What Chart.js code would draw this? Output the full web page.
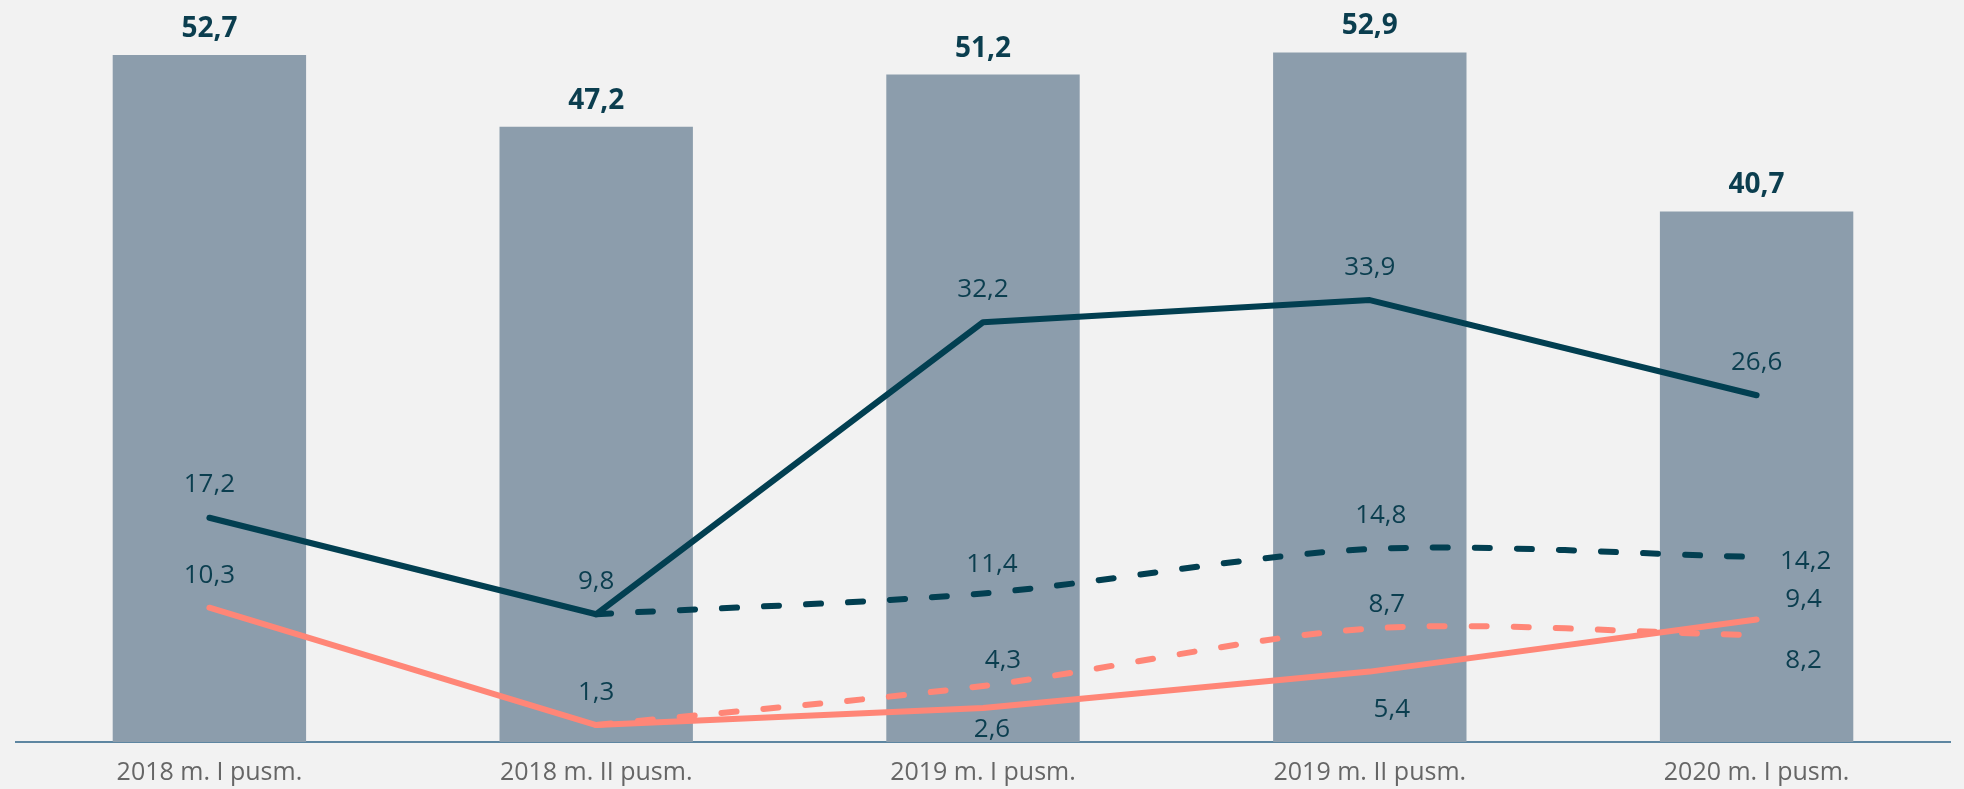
<!DOCTYPE html>
<html>
<head>
<meta charset="utf-8">
<script src="https://cdn.jsdelivr.net/npm/chart.js@4"></script>
<style>
  html, body { margin: 0; padding: 0; background: #f2f2f2; }
  #wrap { width: 1964px; height: 789px; }
</style>
</head>
<body>
<div id="wrap"><canvas id="chart"></canvas></div>
<script>
const categories = ['2018 m. I pusm.', '2018 m. II pusm.', '2019 m. I pusm.', '2019 m. II pusm.', '2020 m. I pusm.'];
const totalBars = [52.7, 47.2, 51.2, 52.9, 40.7];
const darkSolid = [17.2, 9.8, 32.2, 33.9, 26.6];
const darkDashed = [null, 9.8, 11.4, 14.8, 14.2];
const salmonSolid = [10.3, 1.3, 2.6, 5.4, 9.4];
const salmonDashed = [null, 1.3, 4.3, 8.7, 8.2];

const DARK = '#023f51';
const SALMON = '#ff8677';
const fmt = v => v.toFixed(1).replace('.', ',');

// label offsets from each point (px), null = no label
const labelOffsets = {
  1: [[0, -35], [0, -35], [0, -35], [0, -35], [0, -35]],
  2: [null, null, [9, -31], [11, -36], [49, 3]],
  3: [[0, -34], [0, -35], [9, 19], [22, 36], [47, -22]],
  4: [null, null, [20, -27], [17, -26], [47, 23]]
};

const labelPlugin = {
  id: 'valueLabels',
  afterDatasetsDraw(chart) {
    const ctx = chart.ctx;
    ctx.save();
    ctx.fillStyle = '#0b3e4f';
    ctx.textAlign = 'center';
    ctx.textBaseline = 'alphabetic';

    // bar totals
    ctx.font = 'bold 28px "Open Sans"';
    chart.getDatasetMeta(0).data.forEach((el, i) => {
      ctx.fillText(fmt(totalBars[i]), el.x, el.y - 18);
    });

    // line values
    ctx.font = '26px "Open Sans"';
    [1, 2, 3, 4].forEach(di => {
      const ds = chart.data.datasets[di];
      chart.getDatasetMeta(di).data.forEach((el, i) => {
        const off = labelOffsets[di][i];
        if (!off || ds.data[i] == null) return;
        ctx.fillText(fmt(ds.data[i]), el.x + off[0], el.y + off[1] + 9.5);
      });
    });
    ctx.restore();
  }
};

const lineBase = {
  type: 'line',
  pointRadius: 0,
  pointHoverRadius: 0,
  fill: false,
  borderCapStyle: 'round',
  borderJoinStyle: 'round'
};

new Chart(document.getElementById('chart'), {
  data: {
    labels: categories,
    datasets: [
      {
        type: 'bar',
        data: totalBars,
        backgroundColor: '#8c9dac',
        barPercentage: 0.5,
        categoryPercentage: 1,
        order: 10
      },
      { ...lineBase, data: darkSolid, borderColor: DARK, borderWidth: 6, tension: 0, order: 1 },
      { ...lineBase, data: darkDashed, borderColor: DARK, borderWidth: 6, borderDash: [15, 27], tension: 0.3, order: 2 },
      { ...lineBase, data: salmonSolid, borderColor: SALMON, borderWidth: 6, tension: 0, order: 3 },
      { ...lineBase, data: salmonDashed, borderColor: SALMON, borderWidth: 6, borderDash: [15, 27], tension: 0.3, order: 4 }
    ]
  },
  options: {
    responsive: true,
    maintainAspectRatio: false,
    animation: false,
    layout: { padding: { top: 12, left: 16, right: 14, bottom: 2 } },
    plugins: {
      legend: { display: false },
      tooltip: { enabled: false }
    },
    scales: {
      x: {
        grid: { display: false, drawTicks: false },
        border: { display: true, color: '#5e86a1', width: 2 },
        ticks: {
          color: '#666666',
          font: { family: 'Open Sans', size: 25 },
          padding: 16
        },
        afterFit(scale) { scale.height = 45; }
      },
      y: {
        display: false,
        min: 0,
        max: 56
      }
    }
  },
  plugins: [labelPlugin]
});
</script>
</body>
</html>
